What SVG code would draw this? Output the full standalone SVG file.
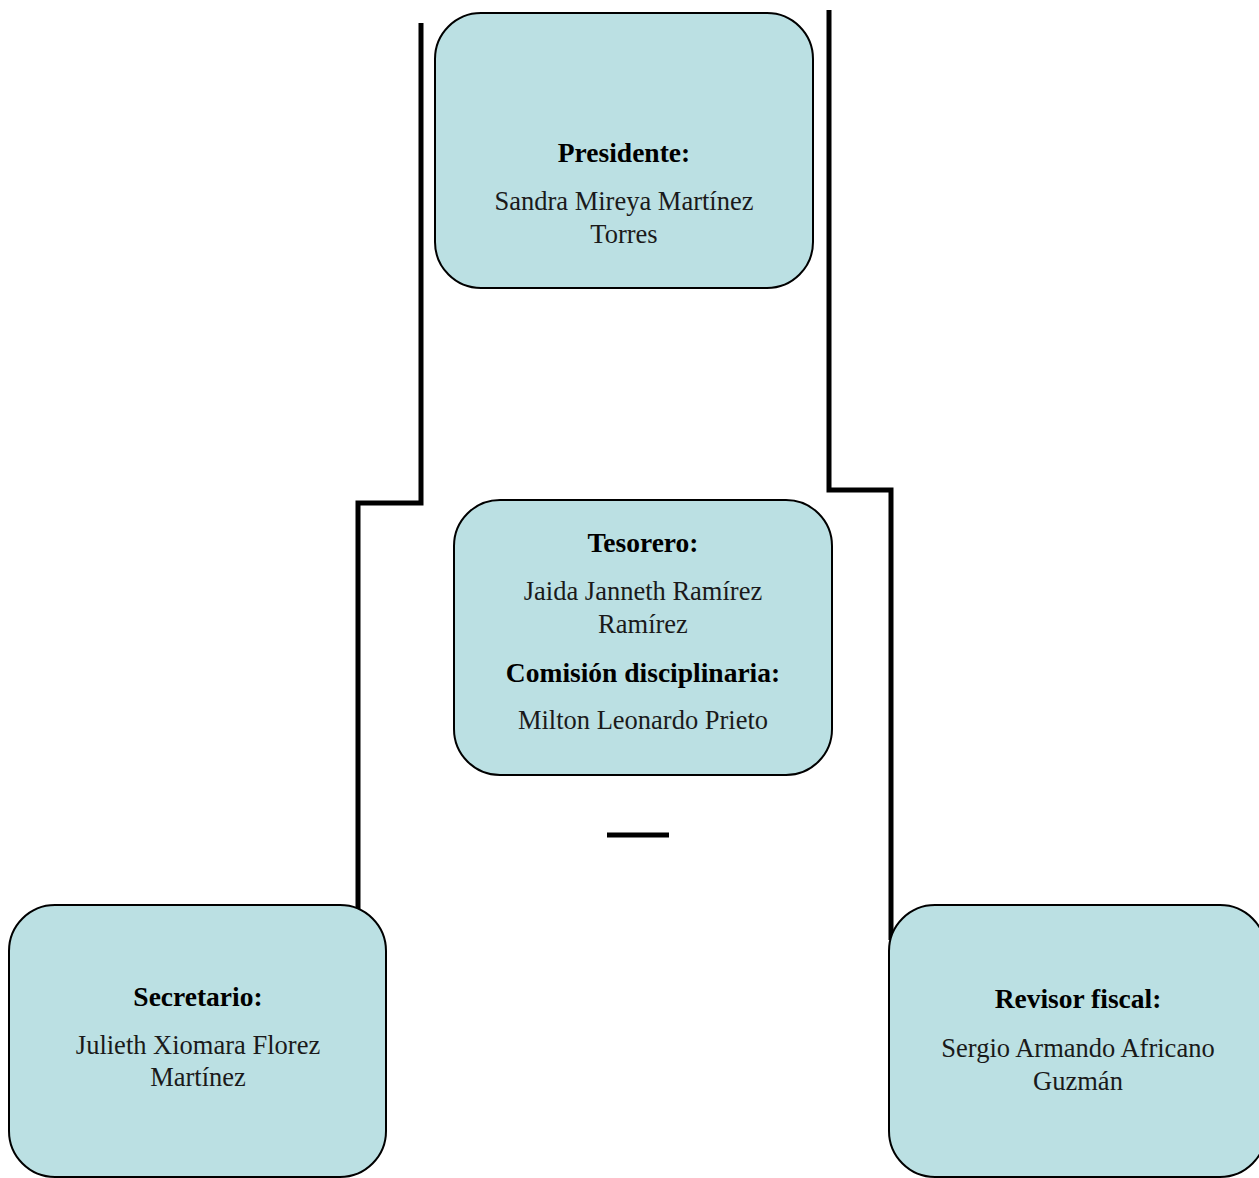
<svg xmlns="http://www.w3.org/2000/svg" width="1259" height="1178" viewBox="0 0 1259 1178">
<style>
.box{fill:#bbe0e3;stroke:#000;stroke-width:2}
.conn{fill:none;stroke:#000;stroke-width:5;stroke-linejoin:miter}
text{font-family:"Liberation Serif","DejaVu Serif",serif;font-size:26.5px;fill:#1a1a1a;text-anchor:middle}
.t{font-weight:bold;font-size:27.5px;fill:#000}
</style>
<rect width="1259" height="1178" fill="#fff"/>
<g id="connectors">
<polyline class="conn" points="421,23 421,503 358,503 358,912"/>
<polyline class="conn" points="829,10 829,490 891,490 891,940"/>
<line class="conn" x1="607" y1="835" x2="669" y2="835"/>
</g>
<g id="presidente">
<rect class="box" x="435" y="13" width="378" height="275" rx="46" ry="46"/>
<text class="t" x="624" y="162">Presidente:</text>
<text x="624" y="210">Sandra Mireya Martínez</text>
<text x="624" y="243">Torres</text>
</g>
<g id="tesorero">
<rect class="box" x="454" y="500" width="378" height="275" rx="46" ry="46"/>
<text class="t" x="643" y="552">Tesorero:</text>
<text x="643" y="600">Jaida Janneth Ramírez</text>
<text x="643" y="633">Ramírez</text>
<text class="t" x="643" y="682">Comisión disciplinaria:</text>
<text x="643" y="729">Milton Leonardo Prieto</text>
</g>
<g id="secretario">
<rect class="box" x="9" y="905" width="377" height="272" rx="46" ry="46"/>
<text class="t" x="198" y="1006">Secretario:</text>
<text x="198" y="1054">Julieth Xiomara Florez</text>
<text x="198" y="1086">Martínez</text>
</g>
<g id="revisor">
<rect class="box" x="889" y="905" width="377" height="272" rx="46" ry="46"/>
<text class="t" x="1078" y="1008">Revisor fiscal:</text>
<text x="1078" y="1057">Sergio Armando Africano</text>
<text x="1078" y="1090">Guzmán</text>
</g>
</svg>
